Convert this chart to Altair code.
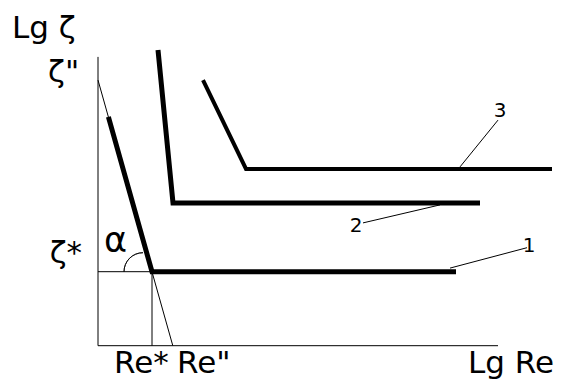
import altair as alt
import pandas as pd

# Curves in (Lg Re, Lg zeta) units; each: steep branch -> knee -> plateau
curve_ids = ["1", "2", "3"]
curve_lgre = [[0.26, 1.35, 8.95], [1.5, 1.875, 9.55], [2.625, 3.7, 11.35]]
curve_lgz = [[5.72, 1.85, 1.85], [7.39, 3.57, 3.57], [6.64, 4.42, 4.42]]
curve_width = [5, 5, 4]

# Characteristic values
zeta_star = 1.85
zeta_2 = 6.64
re_star = 1.35
re_2 = 1.87

# Axis extents
x_axis_end = 10.0
y_axis_end = 7.22

# Leader lines: from curve to number label
leader_x = [9.05, 8.55, 8.8]
leader_y = [4.47, 3.52, 1.94]
leader_x2 = [10.0, 6.625, 10.725]
leader_y2 = [5.64, 3.07, 2.45]
leader_lbl = ["3", "2", "1"]
leader_lbl_x = [10.05, 6.45, 10.775]
leader_lbl_y = [5.72, 2.84, 2.34]

X_DOM = [-2.45, 11.725]
Y_DOM = [-0.9325, 8.6425]
xs = alt.Scale(domain=X_DOM, nice=False, zero=False)
ys = alt.Scale(domain=Y_DOM, nice=False, zero=False)

FONT = "DejaVu Sans"

rows = []
for cid, xv, yv, w in zip(curve_ids, curve_lgre, curve_lgz, curve_width):
    for i, (a, b) in enumerate(zip(xv, yv)):
        rows.append({"curve": cid, "i": i, "x": a, "y": b, "w": w})
curves = pd.DataFrame(rows)

thin = pd.DataFrame({
    "x": [0, 0, 0, re_star, 0] + leader_x,
    "y": [0, 0, zeta_star, 0, zeta_2] + leader_y,
    "x2": [0, x_axis_end, re_star, re_star, re_2] + leader_x2,
    "y2": [y_axis_end, 0, zeta_star, zeta_star, 0] + leader_y2,
})

big_labels = pd.DataFrame({
    "t": ["Lg ζ", "ζ\"", "ζ*", "Re*", "Re\"", "Lg Re"],
    "x": [-2.15, -0.47, -0.4, 0.4, 1.975, 9.25],
    "y": [7.69, 6.59, 2.07, -0.69, -0.69, -0.69],
    "a": ["left", "right", "right", "left", "left", "left"],
})

num_labels = pd.DataFrame({"t": leader_lbl, "x": leader_lbl_x, "y": leader_lbl_y})

def X(f="x"):
    return alt.X(f"{f}:Q", scale=xs, axis=None)

def Y(f="y"):
    return alt.Y(f"{f}:Q", scale=ys, axis=None)

thin_layer = alt.Chart(thin).mark_rule(color="black", strokeWidth=1).encode(
    x=X(), y=Y(), x2="x2:Q", y2="y2:Q"
)

curve_layers = []
for cid, w in zip(curve_ids, curve_width):
    curve_layers.append(
        alt.Chart(curves[curves.curve == cid]).mark_line(
            color="black", strokeWidth=w, strokeJoin="miter"
        ).encode(x=X(), y=Y(), order="i:Q")
    )

arc_layer = alt.Chart(pd.DataFrame({"x": [1.125], "y": [zeta_star]})).mark_arc(
    filled=False, stroke="black", strokeWidth=0.8, fill=None
).encode(
    x=X(), y=Y(),
    theta=alt.value(4.712), theta2=alt.value(6.283),
    radius=alt.value(19), radius2=alt.value(19),
)

text_layers = []
for a in ["left", "right"]:
    text_layers.append(
        alt.Chart(big_labels[big_labels.a == a]).mark_text(
            align=a, baseline="alphabetic", fontSize=31,
            font=FONT, color="black"
        ).encode(x=X(), y=Y(), text="t:N")
    )

alpha_layer = alt.Chart(pd.DataFrame({"t": ["α"], "x": [0.15], "y": [2.34]})).mark_text(
    align="left", baseline="alphabetic", fontSize=35, font=FONT, color="black"
).encode(x=X(), y=Y(), text="t:N")

num_layer = alt.Chart(num_labels).mark_text(
    align="center", baseline="alphabetic", fontSize=20, font=FONT, color="black"
).encode(x=X(), y=Y(), text="t:N")

chart = alt.layer(
    thin_layer, *curve_layers, arc_layer, *text_layers, alpha_layer, num_layer
).properties(
    width=567, height=383, padding=0, autosize=alt.AutoSizeParams(type="none"),
    background="white"
).configure_view(stroke=None)

chart.save("out.html", embed_options={"renderer": "svg", "actions": False})
